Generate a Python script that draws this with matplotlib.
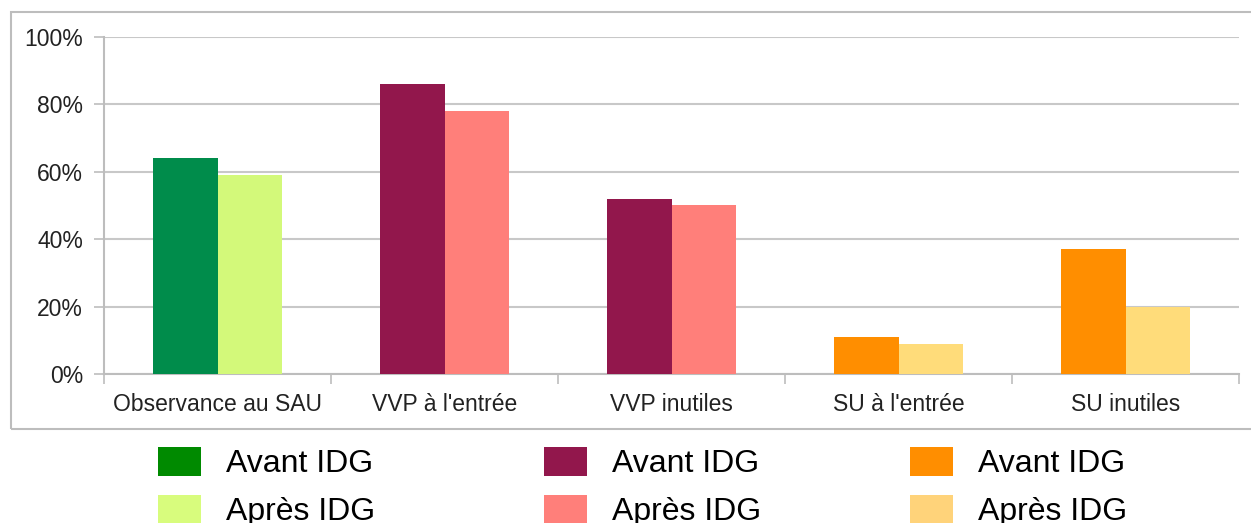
import matplotlib
matplotlib.use("Agg")
import matplotlib.pyplot as plt
from matplotlib.patches import Rectangle, Patch
from matplotlib.ticker import FixedLocator, PercentFormatter

plt.rcParams['font.family'] = ['Liberation Sans', 'DejaVu Sans']

categories = ["Observance au SAU", "VVP à l'entrée", "VVP inutiles", "SU à l'entrée", "SU inutiles"]
avant = [64, 86, 52, 11, 37]
apres = [59, 78, 50, 9, 20]
avant_colors = ["#008C4B", "#92174C", "#92174C", "#FF8E00", "#FF8E00"]
apres_colors = ["#D3F97A", "#FF7F7A", "#FF7F7A", "#FFDC7A", "#FFDC7A"]
legend_labels = ["Avant IDG", "Après IDG"]
legend_colors = [("#008A00", "#D8FC7D"), ("#92174C", "#FF7F7A"), ("#FF8E00", "#FFD37A")]
yticks = [0, 20, 40, 60, 80, 100]

W, H = 1251, 523
fig = plt.figure(figsize=(W / 100, H / 100), dpi=100)

# outer frame
fig.patches.append(Rectangle((11 / W, 1 - 429 / H), (W + 20 - 11) / W, (429 - 12) / H,
                             transform=fig.transFigure, fill=False,
                             edgecolor="#BDBDBD", linewidth=1.5, zorder=0))

ax = fig.add_axes([104 / W, 1 - 374 / H, (1239 - 104) / W, (374 - 37) / H])
x = list(range(len(categories)))
bw = 0.286
ax.bar([i - bw / 2 for i in x], avant, width=bw, color=avant_colors, zorder=3)
ax.bar([i + bw / 2 for i in x], apres, width=bw, color=apres_colors, zorder=3)

ax.set_xlim(-0.5, len(categories) - 0.5)
ax.set_ylim(0, 100)
ax.set_yticks(yticks)
ax.yaxis.set_major_formatter(PercentFormatter(decimals=0))
ax.set_xticks(x)
ax.set_xticklabels(categories)
ax.xaxis.set_minor_locator(FixedLocator([i - 0.5 for i in range(len(categories) + 1)]))
ax.tick_params(axis='x', which='major', length=0, pad=14, labelsize=16.5, labelcolor="#222222")
ax.tick_params(axis='x', which='minor', length=7, width=1.2, color="#BDBDBD")
ax.tick_params(axis='y', length=7, width=1.2, color="#BDBDBD", labelsize=16.5,
               labelcolor="#222222", pad=8)
ax.grid(axis='y', color="#C8C8C8", linewidth=1.5, zorder=0)
for s in ["top", "right"]:
    ax.spines[s].set_visible(False)
for s in ["left", "bottom"]:
    ax.spines[s].set_color("#BDBDBD")
    ax.spines[s].set_linewidth(1.5)

# legends: three columns
col_x = [158, 544, 910]
for cx, (c1, c2) in zip(col_x, legend_colors):
    handles = [Patch(facecolor=c1, edgecolor='none'), Patch(facecolor=c2, edgecolor='none')]
    fig.legend(handles, legend_labels, loc='upper left',
               bbox_to_anchor=(cx / W, 1 - 447 / H), bbox_transform=fig.transFigure,
               frameon=False, fontsize=23, borderpad=0, borderaxespad=0,
               handlelength=1.34, handleheight=1.0, handletextpad=0.78,
               labelspacing=0.5)

fig.savefig("out.png", dpi=100)
